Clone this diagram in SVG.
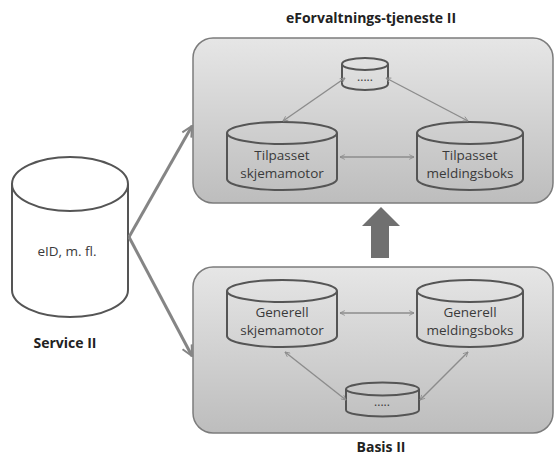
<svg xmlns="http://www.w3.org/2000/svg" width="555" height="458" viewBox="0 0 555 458">
  <defs>
    <linearGradient id="panelFill" x1="0" y1="0" x2="0" y2="1">
      <stop offset="0" stop-color="#e6e6e6"/>
      <stop offset="1" stop-color="#bdbdbd"/>
    </linearGradient>
    <marker id="thinHead" viewBox="0 0 10 10" refX="9" refY="5" markerWidth="6" markerHeight="6" orient="auto-start-reverse" markerUnits="userSpaceOnUse">
      <path d="M1,1 L9,5 L1,9" fill="none" stroke="#8c8c8c" stroke-width="1.4"/>
    </marker>
    <marker id="thickHead" viewBox="0 0 10 10" refX="9" refY="5" markerWidth="13" markerHeight="13" orient="auto" markerUnits="userSpaceOnUse">
      <path d="M1,1 L9,5 L1,9" fill="none" stroke="#858585" stroke-width="1.6"/>
    </marker>
  </defs>
  <style>
    .panel { fill: url(#panelFill); stroke: #7c7c7c; stroke-width: 1.5; }
    .cyl { fill: none; stroke: #555555; stroke-width: 2; }
    .cylw { fill: #ffffff; stroke: #555555; stroke-width: 2; }
    .label { font-family: "Open Sans", "Liberation Sans", sans-serif; font-size: 13.5px; fill: #3a3a3a; text-anchor: middle; }
    .small { font-size: 12px; }
    .title { font-family: "Open Sans", "Liberation Sans", sans-serif; font-size: 14px; font-weight: bold; fill: #222222; text-anchor: middle; }
    .thin { stroke: #8c8c8c; stroke-width: 1.4; fill: none; marker-start: url(#thinHead); marker-end: url(#thinHead); }
    .thick { stroke: #858585; stroke-width: 3; fill: none; marker-end: url(#thickHead); }
  </style>

  <!-- panels -->
  <g id="eforvaltning">
    <rect class="panel" x="193" y="38" width="360" height="165" rx="20" ry="20"/>
    <text class="title" x="371" y="23">eForvaltnings-tjeneste II</text>
  </g>
  <g id="basis">
    <rect class="panel" x="193" y="267" width="360" height="166" rx="20" ry="20"/>
    <text class="title" x="381" y="452">Basis II</text>
  </g>

  <!-- service store -->
  <g id="service">
    <path class="cylw" d="M12,184 L12,290 A58,27 0 0 0 128,290 L128,184"/>
    <ellipse class="cylw" cx="70" cy="184" rx="58" ry="27"/>
    <text class="label" x="67" y="256">eID, m. fl.</text>
    <text class="title" x="65" y="348">Service II</text>
  </g>

  <!-- upper panel nodes -->
  <g id="top-misc">
    <path class="cyl" d="M342,64 L342,84 A23,6 0 0 0 388,84 L388,64"/>
    <ellipse class="cyl" cx="365" cy="64" rx="23" ry="6"/>
    <text class="label small" x="365" y="81">.....</text>
  </g>
  <g id="tilpasset-skjemamotor">
    <path class="cyl" d="M227,133 L227,179 A55,11 0 0 0 337,179 L337,133"/>
    <ellipse class="cyl" cx="282" cy="133" rx="55" ry="11"/>
    <text class="label" x="282" y="160">Tilpasset</text>
    <text class="label" x="282" y="178">skjemamotor</text>
  </g>
  <g id="tilpasset-meldingsboks">
    <path class="cyl" d="M417,133 L417,179 A53,11 0 0 0 523,179 L523,133"/>
    <ellipse class="cyl" cx="470" cy="133" rx="53" ry="11"/>
    <text class="label" x="470" y="160">Tilpasset</text>
    <text class="label" x="470" y="178">meldingsboks</text>
  </g>

  <!-- lower panel nodes -->
  <g id="generell-skjemamotor">
    <path class="cyl" d="M227,291 L227,336 A55,11 0 0 0 337,336 L337,291"/>
    <ellipse class="cyl" cx="282" cy="291" rx="55" ry="11"/>
    <text class="label" x="282" y="317">Generell</text>
    <text class="label" x="282" y="335">skjemamotor</text>
  </g>
  <g id="generell-meldingsboks">
    <path class="cyl" d="M417,291 L417,336 A53,11 0 0 0 523,336 L523,291"/>
    <ellipse class="cyl" cx="470" cy="291" rx="53" ry="11"/>
    <text class="label" x="470" y="317">Generell</text>
    <text class="label" x="470" y="335">meldingsboks</text>
  </g>
  <g id="bottom-misc">
    <path class="cyl" d="M346,389 L346,410 A36.5,6.5 0 0 0 419,410 L419,389"/>
    <ellipse class="cyl" cx="382.5" cy="389" rx="36.5" ry="6.5"/>
    <text class="label small" x="382" y="406">.....</text>
  </g>

  <!-- connectors -->
  <g id="connectors">
    <line class="thin" x1="340" y1="157" x2="414" y2="157"/>
    <line class="thin" x1="283" y1="121" x2="345" y2="78"/>
    <line class="thin" x1="386" y1="78" x2="468" y2="121"/>
    <line class="thin" x1="340" y1="313" x2="414" y2="313"/>
    <line class="thin" x1="285" y1="352" x2="346" y2="400"/>
    <line class="thin" x1="468" y1="352" x2="420" y2="400"/>
    <line class="thick" x1="129" y1="237" x2="192" y2="126"/>
    <line class="thick" x1="129" y1="237" x2="192" y2="356"/>
    <path d="M381,207 L400,226 L389,226 L389,258 L371,258 L371,226 L362,226 Z" fill="#707070"/>
  </g>
</svg>
